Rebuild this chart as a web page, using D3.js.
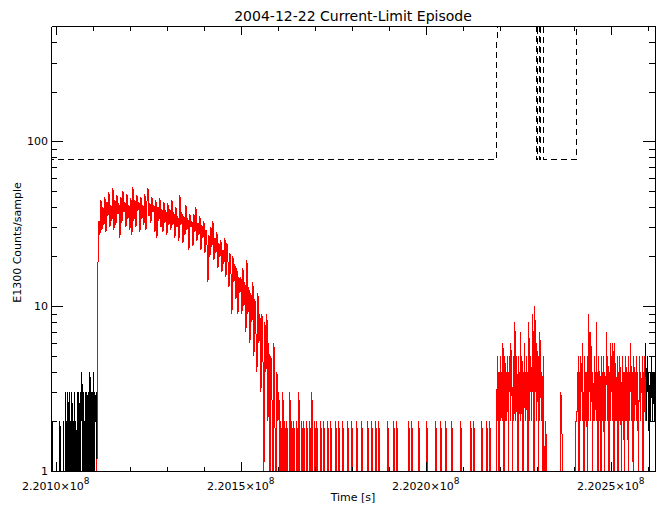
<!DOCTYPE html>
<html><head><meta charset="utf-8">
<script src="https://cdn.jsdelivr.net/npm/d3@7"></script>
<style>
body{margin:0;background:#fff}
svg{display:block}
text{font-family:"DejaVu Sans",sans-serif;fill:#000}
</style>
</head><body><svg id="c" width="664" height="511"></svg>
<script>
// ---------- data ----------
const chartTitle = "2004-12-22 Current-Limit Episode";
const xTitle = "Time [s]";
const yTitle = "E1300 Counts/sample";
const timeDomain = [220098730, 220261970];
const countDomain = [1, 500];
const firstSampleTime = 220098730;
const xMajorTicks = [220100000, 220150000, 220200000, 220250000];
const xTickLabels = ["2.2010\u00d710", "2.2015\u00d710", "2.2020\u00d710", "2.2025\u00d710"];
const xTickExponent = "8";
const yMajorTicks = [1, 10, 100];
const yTickLabels = ["1", "10", "100"];

// counts per sample (0 = no counts, off the log axis); cadence in seconds
const preCadence = 135;
const preCounts = [2,0,1,2,0,0,0,0,0,0, 0,0,0,0,0,1,0,0,2,0, 0,0,0,0,0,2,0,0,0,3,
 0,0,2,0,3,0,0,3,0,0, 2,0,3,0,0,2,0,3,0,0, 2,0,0,3,0,0,3,0,2,0,
 3,2,4,0,2,3,0,2,0,3, 2,0,3,2,0,2,3,0,4,2, 0,3,2,3,0,4,2,0,3,2, 2,3];
const episode1Cadence = 270.27;
const episode1Counts = [1,18,33,27,44,29,40,31,46,28,43,35,49,30,
 41,33,52,29,44,31,47,36,42,26,46,32,50,37,43,30,48,34,41,29,
 45,27,53,33,44,30,47,38,43,28,46,34,41,31,48,29,43,52,35,42,
 32,46,37,41,28,44,26,40,33,45,30,39,28,43,32,38,27,42,31,39,
 29,44,31,37,26,40,30,35,25,47,31,37,24,35,27,41,29,34,22,36,
 30,33,23,36,28,40,25,32,27,35,22,31,26,33,21,29,24,14,27,20,
 30,23,33,19,26,21,28,17,24,20,25,16,22,18,26,15,24,19,13,21,
 16,9,20,14,18,11,17,9,15,12,15,9,17,10,14,7,19,9,13,6,
 12,8,14,5,11,7,4,12,6,9,3,9,5,1,8,4,9,2,6,0,
 5,3,0,6,2,0,4,2,3,0];
const quietCadence = 270.27;
const quietCounts = [2,0,3,0,2,0,2,0,0,3,0,2,0,2,0,0,2,0,3,0,
 0,2,0,2,0,0,2,0,0,2,0,3,0,0,2,0,2,0,0,0,
 2,0,0,2,0,0,0,2,0,0,2,0,0,0,0,2,0,0,2,0,
 0,0,2,0,0,0,0,2,0,0,0,2,0,0,0,0,2,0,0,0,
 0,2,0,0,0,0,0,2,0,0,0,2,0,0,0,2,0,0,2,0,
 0,0,0,0,0,0,0,2,0,0,0,0,0,2,0,0,2,0,0,0,
 0,0,0,0,0,0,0,0,2,0,0,2,0,0,0,0,0,0,2,0,
 0,0,0,0,0,0,2,0,0,0,0,0,0,0,0,2,0,0,0,0,
 2,0,0,0,0,2,0,0,0,0,0,2,0,0,0,0,0,0,0,0,
 2,0,0,0,0,0,0,0,0,0,2,0,0,2,0,0,0,0,0,0,
 0,2,0,0,0,0,2,0,0,2,0,0,0,0,0,0];
const episode2Cadence = 135;
const episode2Counts = [3,5,2,4,0,4,3,5,2,3, 4,2,6,3,0,4,5,2,3,4, 2,5,3,0,4,3,5,2,6,3,
 4,0,3,5,2,4,8,3,2,5, 4,3,0,5,2,4,3,7,2,4, 5,3,0,4,2,6,3,4,2,5,
 3,4,0,6,8,2,4,3,5,2, 4,3,9,2,0,4,10,3,5,2, 6,3,4,0,5,2,7,4,3,2, 4,3,0,5,2,0];
const gapCadence = 270.27;
const gapCounts = [0,2,0,0,0,0,0,0,0,0, 0,0,0,0,0,0,3,2,0,0, 0,0,0,0,0,0,0,0,0,0, 0,2];
const episode3Cadence = 135;
const episode3Counts = [2,4,3,5,0,3,4,2,5,3, 4,6,2,3,0,5,3,4,2,4, 3,0,5,2,9,3,4,2,7,3,
 5,0,4,2,3,5,2,4,3,8, 2,4,0,3,5,2,4,3,0,5, 3,4,2,5,3,0,4,2,3,7,
 4,2,5,3,0,4,3,2,6,3, 5,2,6,4,0,3,6,2,4,3, 2,5,0,4,3,2,5,3,4,0,
 3,5,2,4,3,0,4,2,5,3, 2,4,3,0,5,2,4,3,6,2, 3,4,2,0,5,3,2,4,3,5,
 2,3,4,0,2,5,3,2,4,3, 3,5,0,4,2,3,5,2];
const postCadence = 135;
const postCounts = [6,2,4,3,5,2,4,0,3,4, 2,5,3,4,2,4,3,2,4,3];

// current-limit threshold (dashed); 5000 = limit off-scale
const limitTimes = [220098000,220219260,220219280,220229800,220229820,220230340,220230360,220230750,220230770,220231150,220231170,220231690,220231710,220240880,220240900,220262500];
const limitValues = [78,78,5000,5000,78,78,5000,5000,78,78,5000,5000,78,78,5000,5000];

// ---------- build time series ----------
const segments = [
  {counts: preCounts, cadence: preCadence, red: false},
  {counts: episode1Counts, cadence: episode1Cadence, red: true},
  {counts: quietCounts, cadence: quietCadence, red: true},
  {counts: episode2Counts, cadence: episode2Cadence, red: true},
  {counts: gapCounts, cadence: gapCadence, red: true},
  {counts: episode3Counts, cadence: episode3Cadence, red: true},
  {counts: postCounts, cadence: postCadence, red: false}
];
const samples = [];
let tCur = firstSampleTime;
segments.forEach(s => {
  s.counts.forEach(v => { samples.push({t: tCur, v, red: s.red}); tCur += s.cadence; });
});
const redSamples = samples.filter(d => d.red);

// ---------- layout ----------
const L = 51, R = 655, T = 26, B = 471;
const svg = d3.select("#c");
const x = d3.scaleLinear().domain(timeDomain).range([L, R]);
const y = d3.scaleLog().domain(countDomain).range([B, T]);

svg.append("defs").append("clipPath").attr("id", "plot")
  .append("rect").attr("x", L).attr("y", T).attr("width", R - L).attr("height", B - T);

const yv = v => y(v > 0 ? v : 0.3);
const line = d3.line().x(d => x(d.t)).y(d => yv(d.v));

const g = svg.append("g").attr("clip-path", "url(#plot)");
g.append("path").datum(samples).attr("d", line)
  .attr("fill", "none").attr("stroke", "#000").attr("stroke-width", 1).attr("shape-rendering", "crispEdges");
g.append("path").datum(redSamples).attr("d", line)
  .attr("fill", "none").attr("stroke", "#ff0000").attr("stroke-width", 1).attr("shape-rendering", "crispEdges");
const limitData = limitTimes.map((t, i) => ({t, v: limitValues[i]}));
g.append("path").datum(limitData).attr("d", line)
  .attr("fill", "none").attr("stroke", "#000").attr("stroke-width", 1)
  .attr("stroke-dasharray", "6,4").attr("shape-rendering", "crispEdges");

// ---------- axes ----------
const xMinor = d3.range(220100000, timeDomain[1], 10000).filter(t => !xMajorTicks.includes(t));
const yMinor = [];
[1, 10, 100].forEach(d => { for (let k = 2; k <= 9; k++) if (d * k < countDomain[1]) yMinor.push(d * k); });

function styleAxis(sel) {
  sel.selectAll("path.domain").attr("stroke", "#000").attr("shape-rendering", "crispEdges");
  sel.selectAll(".tick line").attr("stroke", "#000").attr("shape-rendering", "crispEdges");
}
function axisPair(axisFn, pos, major, minor, majLen, minLen, scale) {
  svg.append("g").attr("transform", pos)
    .call(axisFn(scale).tickValues(major).tickSize(-majLen).tickSizeOuter(0).tickFormat(""))
    .call(styleAxis);
  svg.append("g").attr("transform", pos)
    .call(axisFn(scale).tickValues(minor).tickSize(-minLen).tickSizeOuter(0).tickFormat(""))
    .call(styleAxis).select("path.domain").remove();
}
axisPair(d3.axisBottom, `translate(0,${B})`, xMajorTicks, xMinor, 9, 4.5, x);
axisPair(d3.axisTop, `translate(0,${T})`, xMajorTicks, xMinor, 9, 4.5, x);
axisPair(d3.axisLeft, `translate(${L},0)`, yMajorTicks, yMinor, 12, 6, y);
axisPair(d3.axisRight, `translate(${R},0)`, yMajorTicks, yMinor, 12, 6, y);

// tick labels
svg.append("g").selectAll("text").data(yMajorTicks).join("text")
  .attr("x", 48).attr("y", d => y(d) + 4).attr("text-anchor", "end")
  .attr("font-size", 11).text((d, i) => yTickLabels[i]);

const xl = svg.append("g").selectAll("text").data(xMajorTicks).join("text")
  .attr("x", d => x(d)).attr("y", B + 19).attr("text-anchor", "middle").attr("font-size", 11);
xl.append("tspan").text((d, i) => xTickLabels[i]);
xl.append("tspan").attr("dy", -6).attr("font-size", 9).text(xTickExponent);

// titles
svg.append("text").attr("x", (L + R) / 2).attr("y", 21).attr("text-anchor", "middle")
  .attr("font-size", 14).text(chartTitle);
svg.append("text").attr("x", (L + R) / 2).attr("y", 501).attr("text-anchor", "middle")
  .attr("font-size", 11).text(xTitle);
svg.append("text").attr("transform", `translate(21,${(T + B) / 2 - 6}) rotate(-90)`)
  .attr("text-anchor", "middle").attr("font-size", 11).text(yTitle);
</script>
</body></html>
